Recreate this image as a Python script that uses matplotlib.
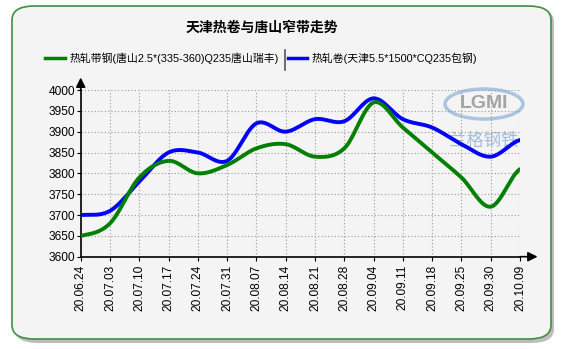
import numpy as np
import matplotlib
matplotlib.use("Agg")
import matplotlib.pyplot as plt
from matplotlib.patches import FancyBboxPatch, Ellipse
from matplotlib.lines import Line2D

plt.rcParams['font.family'] = ['Liberation Sans', 'Noto Sans CJK SC', 'DejaVu Sans']

dates = ['20.06.24', '20.07.03', '20.07.10', '20.07.17', '20.07.24', '20.07.31',
         '20.08.07', '20.08.14', '20.08.21', '20.08.28', '20.09.04', '20.09.11',
         '20.09.18', '20.09.25', '20.09.30', '20.10.09']
strip_ts = [3650, 3680, 3790, 3830, 3800, 3820, 3860, 3870, 3840, 3860,
            3970, 3910, 3850, 3790, 3720, 3810]
coil_tj = [3700, 3710, 3780, 3850, 3850, 3830, 3920, 3900, 3930, 3925,
           3980, 3930, 3910, 3870, 3840, 3880]
label_ts = '热轧带钢(唐山2.5*(335-360)Q235唐山瑞丰)'
label_tj = '热轧卷(天津5.5*1500*CQ235包钢)'
title = '天津热卷与唐山窄带走势'


def smooth(y, n=30):
    # Catmull-Rom curve through the points
    y = np.asarray(y, dtype=float)
    p = np.concatenate([[y[0]], y, [y[-1]]])
    xs, ys = [], []
    t = np.linspace(0, 1, n, endpoint=False)
    for i in range(len(y) - 1):
        p0, p1, p2, p3 = p[i], p[i + 1], p[i + 2], p[i + 3]
        seg = 0.5 * ((2 * p1) + (-p0 + p2) * t + (2 * p0 - 5 * p1 + 4 * p2 - p3) * t ** 2
                     + (-p0 + 3 * p1 - 3 * p2 + p3) * t ** 3)
        xs.append(i + t)
        ys.append(seg)
    xs.append([len(y) - 1])
    ys.append([y[-1]])
    return np.concatenate(xs), np.concatenate(ys)


W, H = 562, 349
fig = plt.figure(figsize=(W / 100, H / 100), dpi=100)
fig.patch.set_facecolor('white')

# rounded panel with a soft shadow
shadow = FancyBboxPatch((15 / W, 1 - 343 / H), 539 / W, 335 / H,
                        boxstyle="round,pad=0,rounding_size=0.04",
                        transform=fig.transFigure, facecolor='#bdbdbd',
                        edgecolor='none', zorder=-2)
panel = FancyBboxPatch((12 / W, 1 - 339 / H), 539 / W, 333 / H,
                       boxstyle="round,pad=0,rounding_size=0.04",
                       transform=fig.transFigure, facecolor='#f4f4f4',
                       edgecolor='#3f8f3f', linewidth=1.2, zorder=-1)
fig.patches.extend([shadow, panel])

fig.text(262 / W, 1 - 28 / H, title, ha='center', va='center',
         fontsize=10, fontweight='bold')

# legend
ly = 1 - 58 / H
fig.add_artist(Line2D([45 / W, 65 / W], [ly, ly], color='#008000', lw=2.5,
                      transform=fig.transFigure))
fig.text(70 / W, ly, label_ts, ha='left', va='center', fontsize=7.8)
fig.add_artist(Line2D([285 / W, 285 / W], [1 - 50 / H, 1 - 70 / H], color='#555555',
                      lw=1.2, transform=fig.transFigure))
fig.add_artist(Line2D([288 / W, 307 / W], [ly, ly], color='#0000ff', lw=2.5,
                      transform=fig.transFigure))
fig.text(312 / W, ly, label_tj, ha='left', va='center', fontsize=7.8)

x0, x1 = 80.7, 520
y0, y1 = 256.7, 90
ax = fig.add_axes([x0 / W, 1 - y0 / H, (x1 - x0) / W, (y0 - y1) / H])
ax.set_facecolor('none')
ax.set_xlim(0, len(dates) - 1)
ax.set_ylim(3600, 4000)
ax.set_yticks(np.arange(3600, 4001, 50))
ax.set_xticks(range(len(dates)))
ax.set_xticklabels(dates, rotation=90, fontsize=8.6)
ax.tick_params(axis='y', labelsize=8.6, length=3, pad=1)
ax.tick_params(axis='x', length=3, pad=3)
ax.grid(True, color='#999999', linestyle=(0, (1, 2)), linewidth=0.8)
for s in ['top', 'right']:
    ax.spines[s].set_visible(False)
ax.spines['left'].set_linewidth(1.2)
ax.spines['bottom'].set_linewidth(1.2)

# axis arrows
ax.annotate('', xy=(1.04, 0), xycoords='axes fraction', xytext=(1.0, 0),
            arrowprops=dict(arrowstyle='-|>', color='black', lw=1.2,
                            mutation_scale=14, shrinkA=0, shrinkB=0),
            annotation_clip=False)
ax.annotate('', xy=(0, 1.075), xycoords='axes fraction', xytext=(0, 1.0),
            arrowprops=dict(arrowstyle='-|>', color='black', lw=1.2,
                            mutation_scale=14, shrinkA=0, shrinkB=0),
            annotation_clip=False)

# watermark, under the lines
ax.add_patch(Ellipse((484 / W, 1 - 104 / H), 78 / W, 30 / H,
                     transform=fig.transFigure, facecolor='none', clip_on=False,
                     edgecolor='#8fb0d8', lw=2.5, alpha=0.7, zorder=1))
ax.text(484 / W, 1 - 103 / H, 'LGMI', ha='center', va='center', fontsize=14,
        fontweight='bold', color='#909090', alpha=0.8, zorder=1,
        transform=fig.transFigure)
ax.text(484 / W, 1 - 141 / H, '兰格钢铁', ha='center', va='center', fontsize=12.5,
        fontstyle='italic', color='#8fb0d8', alpha=0.8, zorder=1,
        transform=fig.transFigure)

xs, ys = smooth(coil_tj)
ax.plot(xs, ys, color='#0000ff', lw=2.8, solid_capstyle='round', zorder=3)
xs, ys = smooth(strip_ts)
ax.plot(xs, ys, color='#008000', lw=2.8, solid_capstyle='round', zorder=4)

fig.savefig('out.png', dpi=100, facecolor=fig.get_facecolor())
